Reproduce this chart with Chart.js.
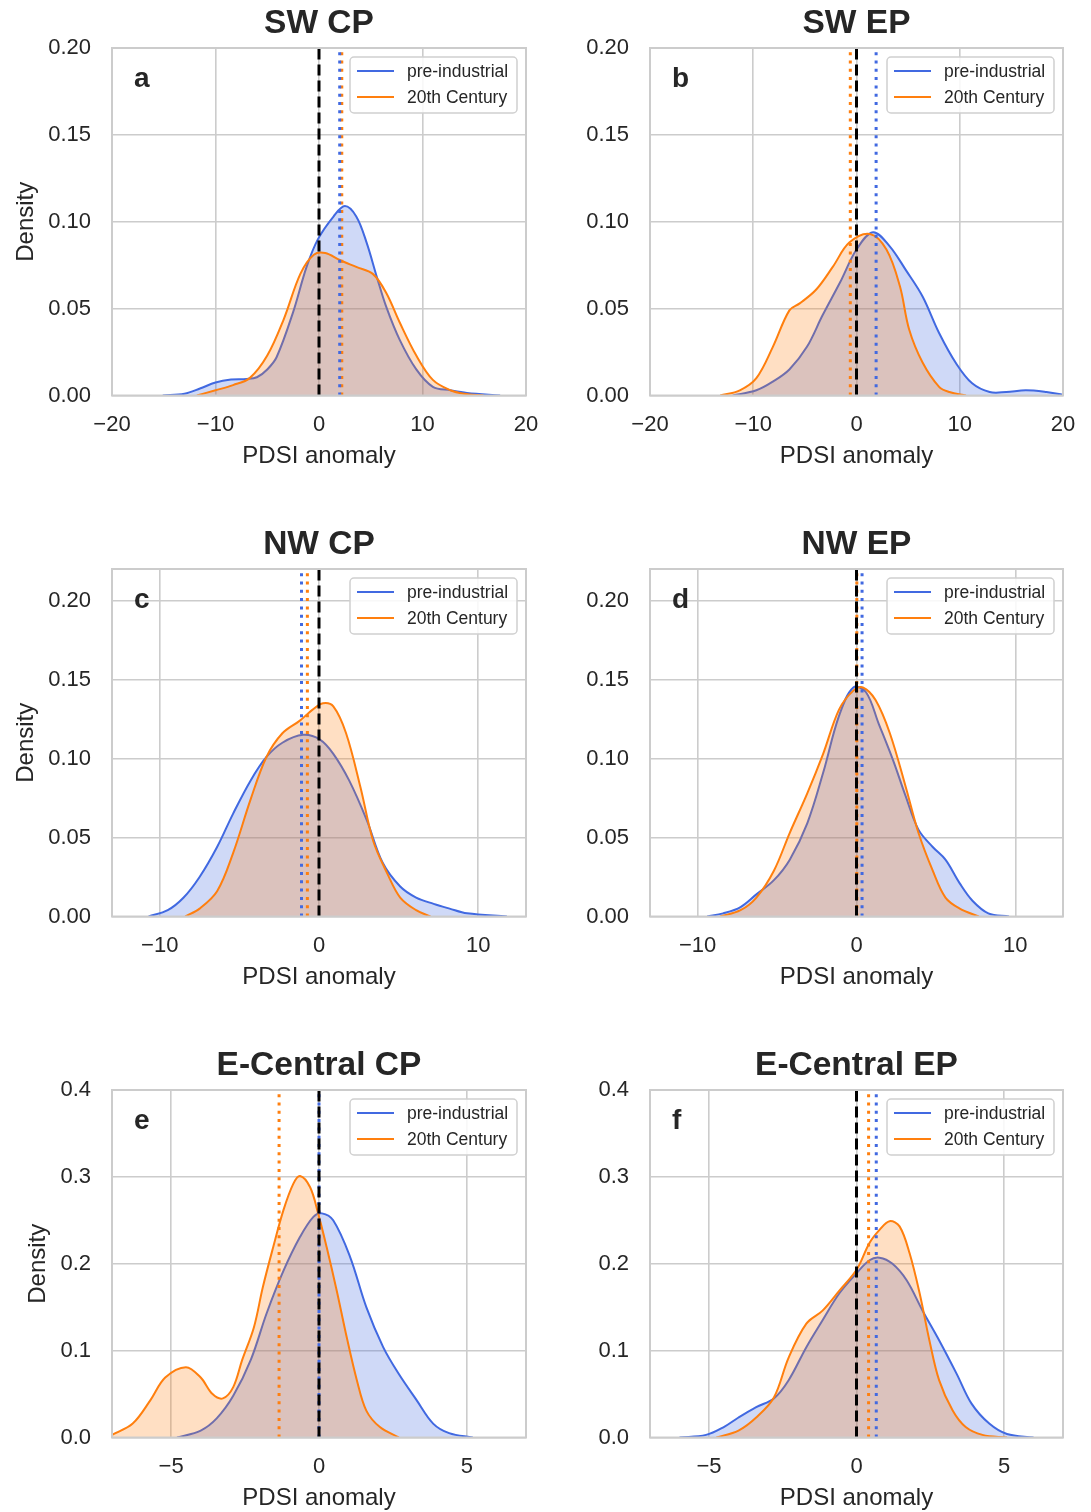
<!DOCTYPE html>
<html>
<head>
<meta charset="utf-8">
<title>PDSI anomaly densities</title>
<script src="https://cdn.jsdelivr.net/npm/chart.js@4.4.1/dist/chart.umd.min.js"></script>
<style>
  html, body { margin: 0; padding: 0; background: #fff; overflow: hidden; }
  canvas { position: absolute; }
</style>
</head>
<body>
<canvas id="p0"></canvas>
<canvas id="p1"></canvas>
<canvas id="p2"></canvas>
<canvas id="p3"></canvas>
<canvas id="p4"></canvas>
<canvas id="p5"></canvas>
<script>
// ---- data ----
const panelTitles = ["SW CP", "SW EP", "NW CP", "NW EP", "E-Central CP", "E-Central EP"];
const panelLetters = ["a", "b", "c", "d", "e", "f"];
const seriesLabels = ["pre-industrial", "20th Century"];

const xMins = [-20, -20, -13, -13, -7, -7];
const xMaxs = [20, 20, 13, 13, 7, 7];
const xSteps = [10, 10, 10, 10, 5, 5];
const yMaxs = [0.2, 0.2, 0.22, 0.22, 0.4, 0.4];
const ySteps = [0.05, 0.05, 0.05, 0.05, 0.1, 0.1];

// SW CP
const swCpPreX = [-15.1, -13, -11.5, -10, -8.5, -7, -6, -5.0, -4.1, -2.5, -1.2, -0.1, 1.4, 2.5, 3.6, 4.6, 5.6, 6.5, 7.8, 9.4, 11.0, 12.7, 14.3, 17.5];
const swCpPreY = [0, 0.001, 0.004, 0.0075, 0.0092, 0.0095, 0.0105, 0.015, 0.022, 0.048, 0.074, 0.090, 0.103, 0.109, 0.103, 0.088, 0.068, 0.051, 0.032, 0.015, 0.005, 0.003, 0.0015, 0];
const swCp20X = [-11.8, -10, -8.3, -6.7, -5.0, -3.4, -1.8, -0.5, 0.6, 2.0, 3.6, 5.2, 6.5, 7.8, 9.4, 11.0, 12.7, 14, 15.9];
const swCp20Y = [0, 0.003, 0.006, 0.010, 0.023, 0.044, 0.070, 0.081, 0.082, 0.078, 0.074, 0.070, 0.059, 0.042, 0.023, 0.009, 0.003, 0.001, 0];
// SW EP
const swEpPreX = [-12, -9.7, -8.1, -6.5, -4.8, -3.3, -1.6, 0, 1.6, 3.2, 4.8, 6.4, 8.0, 9.7, 11.2, 12.9, 14.5, 16.4, 18.4, 20];
const swEpPreY = [0, 0.003, 0.008, 0.015, 0.028, 0.046, 0.065, 0.084, 0.094, 0.086, 0.072, 0.057, 0.036, 0.018, 0.007, 0.002, 0.002, 0.003, 0.002, 0.0004];
const swEp20X = [-13.2, -11.3, -9.7, -8.1, -6.5, -5.5, -3.9, -2.3, -0.7, 1.3, 2.9, 4.2, 5.1, 6.4, 8.0, 9.0, 10.6];
const swEp20Y = [0, 0.003, 0.010, 0.028, 0.049, 0.053, 0.061, 0.074, 0.088, 0.093, 0.084, 0.063, 0.038, 0.019, 0.005, 0.002, 0];
// NW CP
const nwCpPreX = [-10.7, -9.5, -8.5, -7.5, -6.4, -5.4, -4.3, -3.3, -2.3, -1.0, 0.06, 0.9, 1.9, 3.0, 4.0, 5.1, 6.1, 7.2, 8.2, 9.3, 11.8];
const nwCpPreY = [0, 0.004, 0.012, 0.025, 0.044, 0.065, 0.086, 0.101, 0.110, 0.115, 0.112, 0.103, 0.086, 0.061, 0.034, 0.019, 0.012, 0.008, 0.005, 0.002, 0];
const nwCp20X = [-8.4, -7.5, -6.4, -5.4, -4.3, -3.3, -2.3, -1.2, -0.4, 0.25, 0.9, 1.7, 2.6, 3.4, 4.3, 5.1, 6.1, 7.0];
const nwCp20Y = [0, 0.005, 0.016, 0.040, 0.074, 0.101, 0.116, 0.124, 0.131, 0.135, 0.133, 0.116, 0.082, 0.048, 0.027, 0.012, 0.004, 0];
// NW EP
const nwEpPreX = [-9.4, -8.4, -7.3, -6.3, -5.2, -4.2, -3.1, -2.1, -1.1, -0.2, 0.6, 1.4, 2.3, 3.1, 3.9, 4.8, 5.6, 6.5, 7.3, 8.3, 9.6];
const nwEpPreY = [0, 0.002, 0.006, 0.014, 0.023, 0.036, 0.059, 0.091, 0.127, 0.145, 0.142, 0.122, 0.099, 0.076, 0.055, 0.044, 0.036, 0.021, 0.010, 0.002, 0];
const nwEp20X = [-8.6, -7.3, -6.3, -5.2, -4.2, -3.1, -2.1, -1.1, -0.2, 0.4, 1.2, 2.1, 3.1, 3.9, 4.8, 5.6, 6.5, 7.7];
const nwEp20Y = [0, 0.004, 0.012, 0.029, 0.053, 0.078, 0.103, 0.131, 0.143, 0.145, 0.137, 0.116, 0.082, 0.053, 0.029, 0.012, 0.005, 0];
// E-Central CP
const ecCpPreX = [-4.8, -4.0, -3.46, -2.9, -2.3, -1.77, -1.2, -0.64, -0.19, 0.1, 0.48, 1.05, 1.6, 2.17, 2.7, 3.3, 3.86, 4.4, 5.2];
const ecCpPreY = [0, 0.008, 0.022, 0.048, 0.090, 0.143, 0.192, 0.231, 0.254, 0.258, 0.250, 0.208, 0.150, 0.104, 0.073, 0.043, 0.016, 0.005, 0];
const ecCp20X = [-7.0, -6.3, -5.7, -5.2, -4.5, -4.0, -3.6, -3.25, -2.9, -2.6, -2.2, -1.9, -1.55, -1.2, -0.87, -0.64, -0.3, -0.03, 0.26, 0.6, 0.94, 1.28, 1.6, 2.06, 2.7];
const ecCp20Y = [0.003, 0.016, 0.043, 0.069, 0.081, 0.069, 0.050, 0.045, 0.058, 0.089, 0.127, 0.173, 0.219, 0.262, 0.292, 0.301, 0.288, 0.258, 0.219, 0.169, 0.115, 0.066, 0.031, 0.012, 0];
// E-Central EP
const ecEpPreX = [-6.0, -5.1, -4.5, -4.0, -3.4, -2.8, -2.3, -1.7, -1.15, -0.58, 0, 0.44, 0.78, 1.22, 1.7, 2.24, 2.8, 3.4, 3.9, 4.5, 5.1, 6.0];
const ecEpPreY = [0, 0.003, 0.012, 0.023, 0.035, 0.045, 0.066, 0.104, 0.135, 0.166, 0.189, 0.204, 0.207, 0.200, 0.181, 0.146, 0.112, 0.073, 0.039, 0.016, 0.004, 0];
const ecEp20X = [-4.75, -4.0, -3.4, -2.8, -2.3, -1.7, -1.15, -0.58, 0, 0.44, 0.78, 1.12, 1.46, 1.8, 2.14, 2.47, 2.8, 3.26, 3.7, 4.27, 5.1];
const ecEp20Y = [0, 0.008, 0.023, 0.046, 0.092, 0.131, 0.146, 0.169, 0.193, 0.224, 0.239, 0.249, 0.243, 0.212, 0.166, 0.112, 0.066, 0.031, 0.012, 0.003, 0];

// means (dotted lines) and the zero reference (dashed line)
const preMeans = [2.0, 1.9, -1.1, 0.35, 0.0, 0.67];
const c20Means = [2.2, -0.6, -0.73, 0.02, -1.35, 0.41];
const refValue = 0;

const preX = [swCpPreX, swEpPreX, nwCpPreX, nwEpPreX, ecCpPreX, ecEpPreX];
const preY = [swCpPreY, swEpPreY, nwCpPreY, nwEpPreY, ecCpPreY, ecEpPreY];
const c20X = [swCp20X, swEp20X, nwCp20X, nwEp20X, ecCp20X, ecEp20X];
const c20Y = [swCp20Y, swEp20Y, nwCp20Y, nwEp20Y, ecCp20Y, ecEp20Y];

// ---- styling ----
const FONT = "'Liberation Sans', Arial, Helvetica, sans-serif";
const TEXT = "#262626";
const GRID = "#cccccc";
const BLUE = "#4169e1";
const ORANGE = "#ff7f0e";

Chart.defaults.font.family = FONT;
Chart.defaults.color = TEXT;

function toPoints(xs, ys) {
  return xs.map((x, k) => ({ x: x, y: ys[k] }));
}

function vline(x, top, color, dash, order) {
  return {
    data: [{ x: x, y: 0 }, { x: x, y: top }],
    borderColor: color,
    borderWidth: 3,
    borderDash: dash,
    pointRadius: 0,
    fill: false,
    order: order
  };
}

function minus(v) {
  return String(v).replace("-", "\u2212");
}

// frame, panel letter and the boxed legend inside the axes
const panelDecor = {
  id: "panelDecor",
  afterDatasetsDraw(chart, args, opts) {
    const ctx = chart.ctx;
    const a = chart.chartArea;
    ctx.save();
    ctx.strokeStyle = GRID;
    ctx.lineWidth = 2;
    ctx.strokeRect(a.left, a.top, a.width, a.height);

    ctx.fillStyle = TEXT;
    ctx.font = "bold 28px " + FONT;
    ctx.textAlign = "left";
    ctx.textBaseline = "alphabetic";
    ctx.fillText(opts.letter, a.left + 22, a.top + 39);

    const items = chart.data.datasets
      .filter(d => d.legendRank !== undefined)
      .sort((p, q) => p.legendRank - q.legendRank);
    const bw = 167, bh = 56;
    const bx = a.right - 9 - bw, by = a.top + 9;
    ctx.fillStyle = "rgba(255,255,255,0.85)";
    ctx.strokeStyle = "#d0d0d0";
    ctx.lineWidth = 1.5;
    ctx.beginPath();
    ctx.roundRect(bx, by, bw, bh, 4);
    ctx.fill();
    ctx.stroke();
    ctx.font = "17.5px " + FONT;
    ctx.textBaseline = "middle";
    items.forEach((d, k) => {
      const y = by + 14 + k * 26;
      ctx.strokeStyle = d.borderColor;
      ctx.lineWidth = 2;
      ctx.beginPath();
      ctx.moveTo(bx + 7, y);
      ctx.lineTo(bx + 44, y);
      ctx.stroke();
      ctx.fillStyle = TEXT;
      ctx.fillText(d.label, bx + 57, y + 1);
    });
    ctx.restore();
  }
};

for (let i = 0; i < 6; i++) {
  const col = i % 2;
  const row = Math.floor(i / 2);
  const W = col ? 546 : 545;
  const H = 521;
  const canvas = document.getElementById("p" + i);
  canvas.width = W;
  canvas.height = H;
  canvas.style.left = (col ? 545 : 0) + "px";
  canvas.style.top = (row * 521) + "px";

  const areaLeft = col ? 105 : 112;
  const areaBottom = 395.5;
  const yDigits = ySteps[i] < 0.1 ? 2 : 1;
  const top = yMaxs[i];

  new Chart(canvas.getContext("2d"), {
    type: "line",
    data: {
      datasets: [
        vline(refValue, top, "#000000", [11, 5], 0),
        vline(preMeans[i], top, BLUE, [3, 5.3], 1),
        vline(c20Means[i], top, ORANGE, [3, 5.3], 2),
        {
          label: seriesLabels[1],
          legendRank: 1,
          data: toPoints(c20X[i], c20Y[i]),
          borderColor: ORANGE,
          backgroundColor: "rgba(255,127,14,0.25)",
          borderWidth: 2,
          pointRadius: 0,
          tension: 0.35,
          fill: "origin",
          order: 3
        },
        {
          label: seriesLabels[0],
          legendRank: 0,
          data: toPoints(preX[i], preY[i]),
          borderColor: BLUE,
          backgroundColor: "rgba(65,105,225,0.25)",
          borderWidth: 2,
          pointRadius: 0,
          tension: 0.35,
          fill: "origin",
          order: 4
        }
      ]
    },
    options: {
      responsive: false,
      animation: false,
      layout: { padding: { left: 0, right: col ? 28 : 19, top: 0, bottom: 0 } },
      plugins: {
        legend: { display: false },
        tooltip: { enabled: false },
        title: {
          display: true,
          text: panelTitles[i],
          fullSize: false,
          color: TEXT,
          font: { size: 33.5, weight: "bold", lineHeight: 1.2 },
          padding: { top: 3.9, bottom: 3.9 }
        },
        panelDecor: { letter: panelLetters[i] }
      },
      scales: {
        x: {
          type: "linear",
          min: xMins[i],
          max: xMaxs[i],
          afterFit: s => { s.height = H - areaBottom; s.paddingLeft = 0; s.paddingRight = 0; },
          ticks: {
            stepSize: xSteps[i],
            includeBounds: false,
            padding: 16,
            color: TEXT,
            font: { size: 22 },
            maxRotation: 0,
            callback: v => minus(v)
          },
          grid: { color: GRID, lineWidth: 1.6, drawTicks: false },
          border: { display: false },
          title: {
            display: true,
            text: "PDSI anomaly",
            color: TEXT,
            font: { size: 24, lineHeight: 1.2 },
            padding: { top: 0, bottom: H - 456 - 14.4 }
          }
        },
        y: {
          min: 0,
          max: top,
          afterFit: s => { s.width = areaLeft; s.paddingTop = 0; s.paddingBottom = 0; },
          ticks: {
            stepSize: ySteps[i],
            includeBounds: false,
            padding: 21,
            color: TEXT,
            font: { size: 22 },
            callback: v => v.toFixed(yDigits)
          },
          grid: { color: GRID, lineWidth: 1.6, drawTicks: false },
          border: { display: false },
          title: {
            display: col === 0,
            text: "Density",
            color: TEXT,
            font: { size: 24, lineHeight: 1.2 },
            padding: { top: row === 2 ? 24 : 12, bottom: 0 }
          }
        }
      }
    },
    plugins: [panelDecor]
  });
}
</script>
</body>
</html>
